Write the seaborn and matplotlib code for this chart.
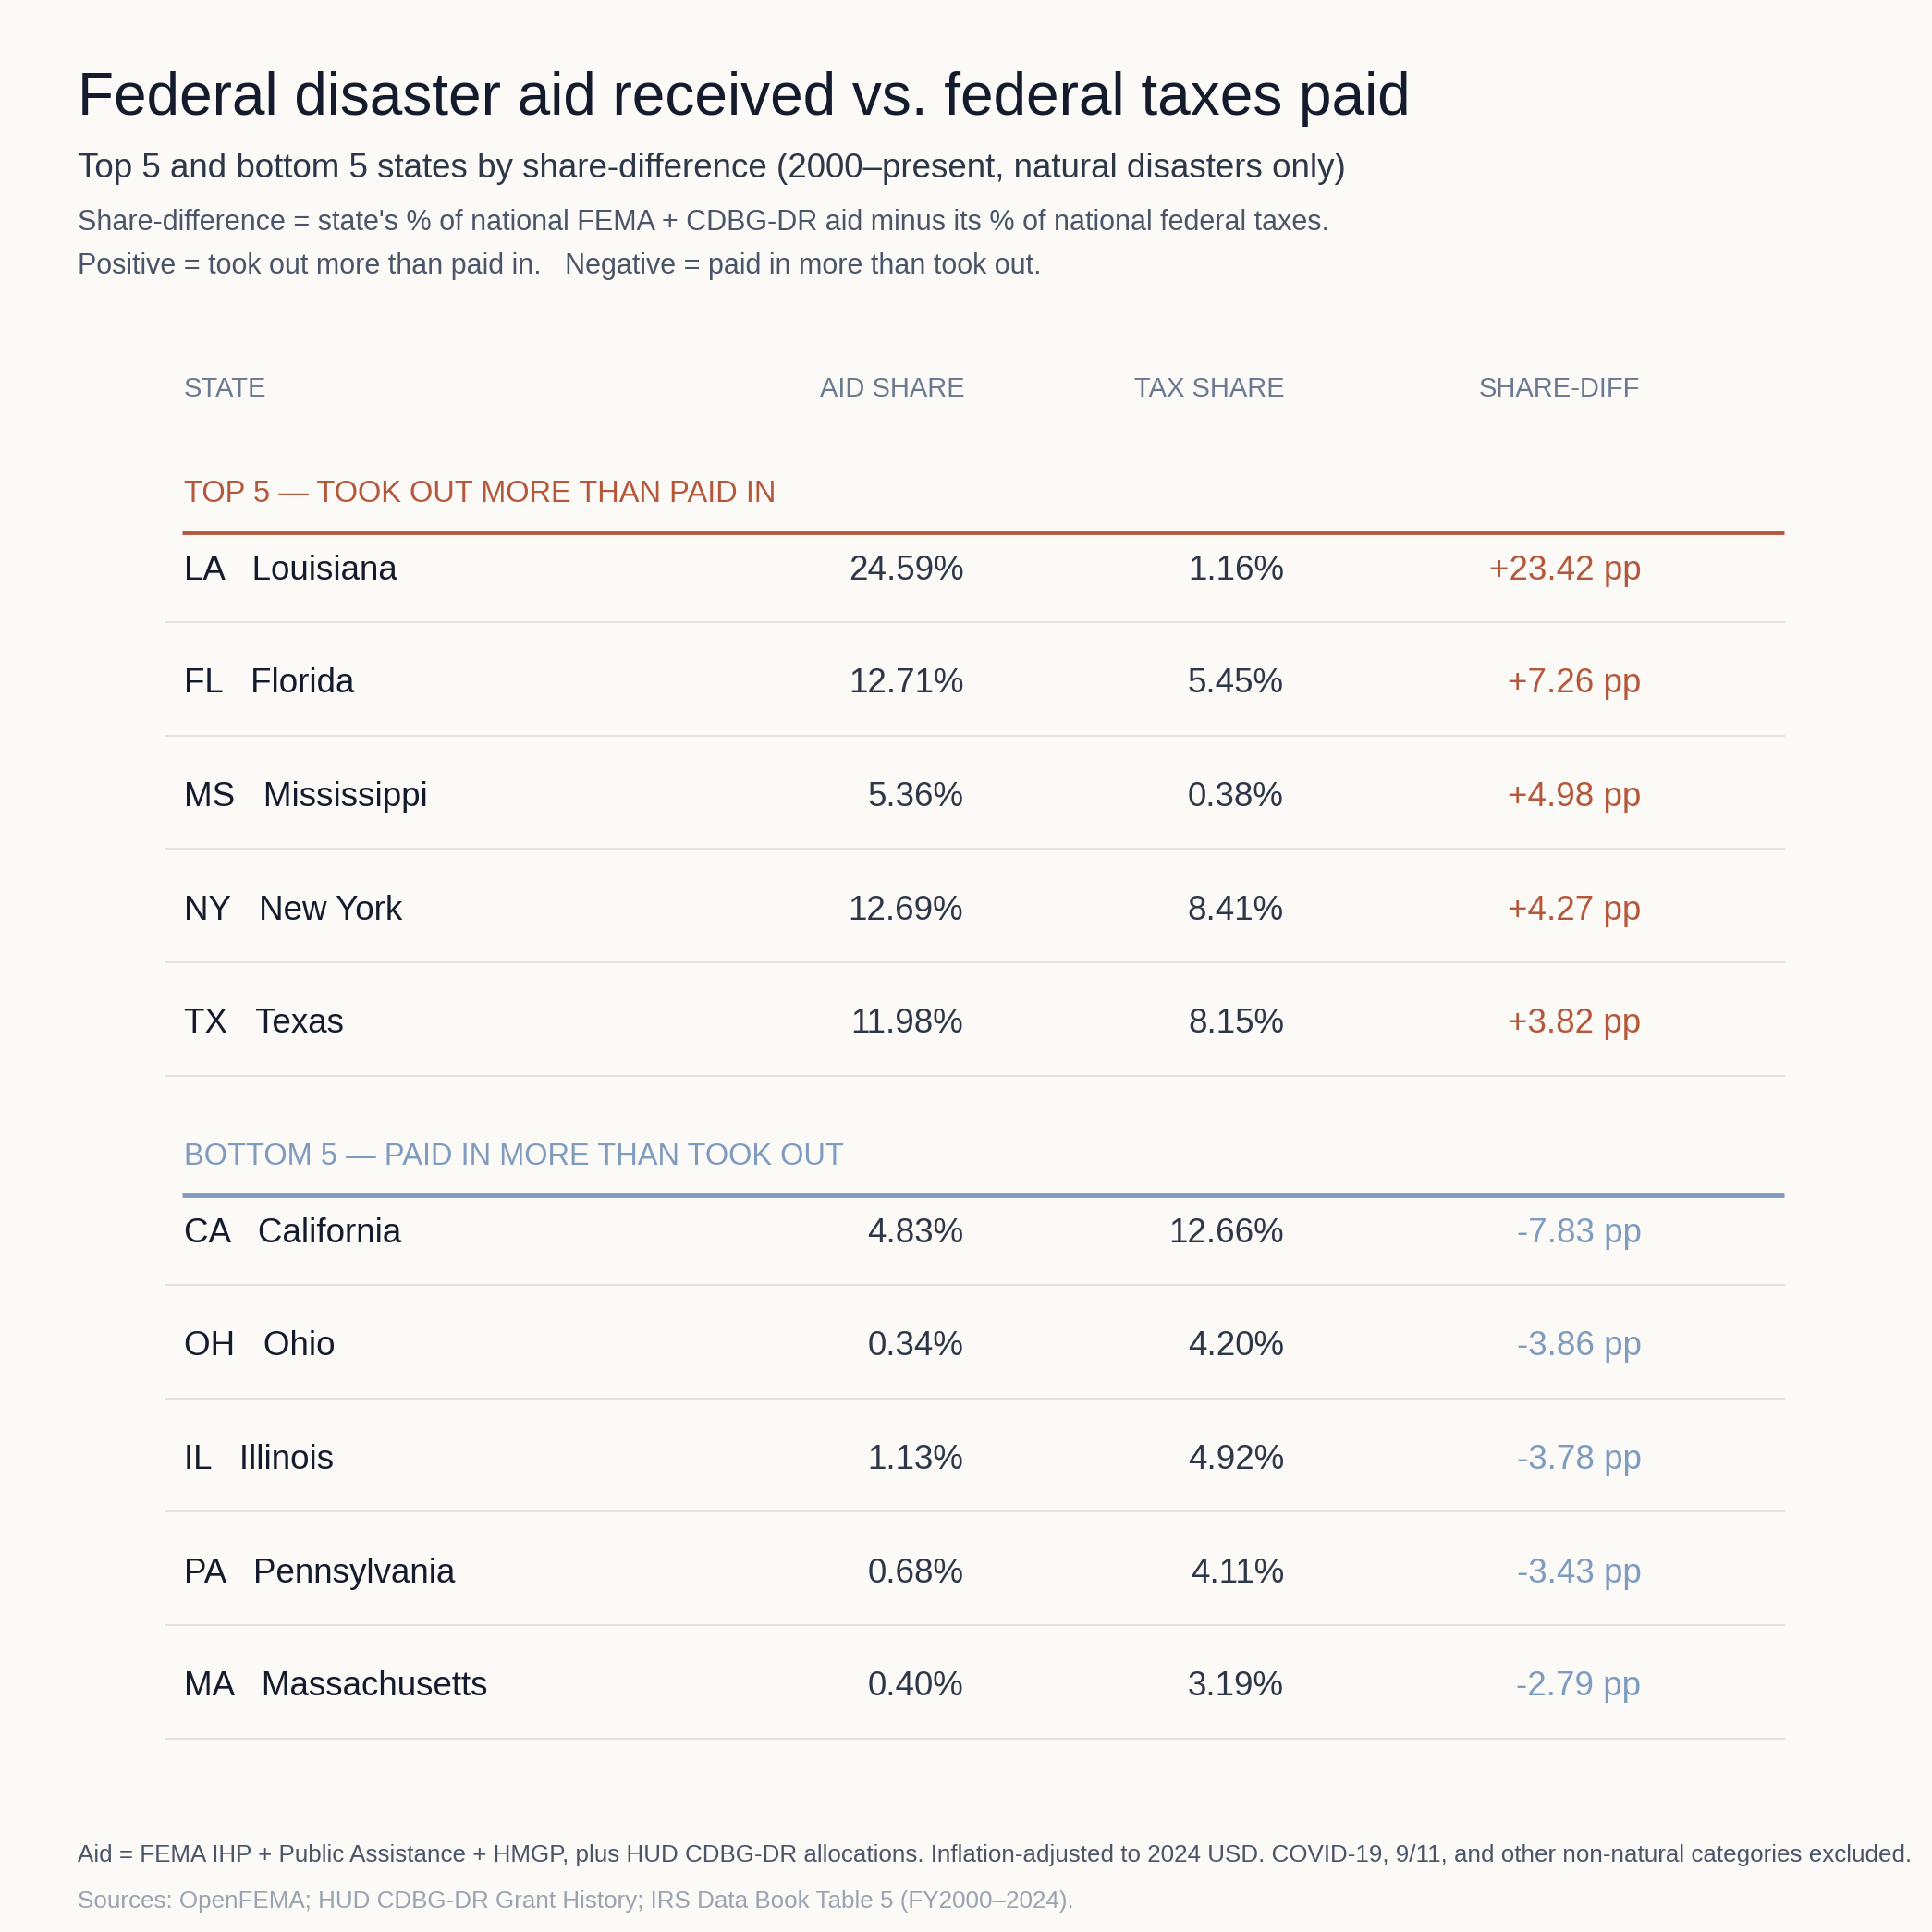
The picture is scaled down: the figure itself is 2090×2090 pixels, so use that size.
import matplotlib.pyplot as plt
import seaborn as sns

codes_top = ['LA', 'FL', 'MS', 'NY', 'TX']
names_top = ['Louisiana', 'Florida', 'Mississippi', 'New York', 'Texas']
aid_top = [24.59, 12.71, 5.36, 12.69, 11.98]
tax_top = [1.16, 5.45, 0.38, 8.41, 8.15]
diff_top = [23.42, 7.26, 4.98, 4.27, 3.82]

codes_bot = ['CA', 'OH', 'IL', 'PA', 'MA']
names_bot = ['California', 'Ohio', 'Illinois', 'Pennsylvania', 'Massachusetts']
aid_bot = [4.83, 0.34, 1.13, 0.68, 0.40]
tax_bot = [12.66, 4.20, 4.92, 4.11, 3.19]
diff_bot = [-7.83, -3.86, -3.78, -3.43, -2.79]

headers = ['STATE', 'AID SHARE', 'TAX SHARE', 'SHARE-DIFF']

BG = '#fbfaf7'
DARK = '#141b2d'
SUB = '#2d3748'
NOTE = '#4a5568'
HEAD = '#6b7a90'
ORANGE = '#b5573a'
BLUE = '#7f9bbf'
SEP = '#e2e2e2'

sns.set_theme(style='white')
plt.rcParams['font.family'] = ['Liberation Sans', 'DejaVu Sans']

fig = plt.figure(figsize=(20.9, 20.9), dpi=100, facecolor=BG)
ax = fig.add_axes([0, 0, 1, 1])
ax.set_facecolor(BG)
ax.set_xlim(0, 1568)
ax.set_ylim(1568, 0)
ax.axis('off')

ax.text(63, 80, 'Federal disaster aid received vs. federal taxes paid', fontsize=46, color=DARK, va='center')
ax.text(63, 137, 'Top 5 and bottom 5 states by share-difference (2000\u2013present, natural disasters only)',
        fontsize=26.5, color=SUB, va='center')
ax.text(63, 181, "Share-difference = state's % of national FEMA + CDBG-DR aid minus its % of national federal taxes.",
        fontsize=22, color=NOTE, va='center')
ax.text(63, 216, 'Positive = took out more than paid in.   Negative = paid in more than took out.',
        fontsize=22, color=NOTE, va='center')

col_x = [149, 783, 1043, 1331]
for i, h in enumerate(headers):
    ax.text(col_x[i], 316, h, fontsize=21, color=HEAD, va='center', ha='left' if i == 0 else 'right')


def section(title, color, head_y, codes, names, aid, tax, diff):
    ax.text(149, head_y, title, fontsize=23.5, color=color, va='center')
    ax.plot([148, 1448], [head_y + 31, head_y + 31], color=color, lw=3.5, solid_capstyle='butt')
    y0 = head_y + 62
    for k in range(len(codes)):
        y = y0 + 92 * k
        ax.text(149, y, f'{codes[k]}   {names[k]}', fontsize=26.5, color=DARK, va='center')
        ax.text(782, y, f'{aid[k]:.2f}%', fontsize=26.5, color=SUB, va='center', ha='right')
        ax.text(1042, y, f'{tax[k]:.2f}%', fontsize=26.5, color=SUB, va='center', ha='right')
        ax.text(1332, y, f'{diff[k]:+.2f} pp', fontsize=26.5, color=color, va='center', ha='right')
        ax.plot([134, 1448], [y + 42, y + 42], color=SEP, lw=1.5)


section('TOP 5 \u2014 TOOK OUT MORE THAN PAID IN', ORANGE, 401, codes_top, names_top, aid_top, tax_top, diff_top)
section('BOTTOM 5 \u2014 PAID IN MORE THAN TOOK OUT', BLUE, 939, codes_bot, names_bot, aid_bot, tax_bot, diff_bot)

ax.text(63, 1506, 'Aid = FEMA IHP + Public Assistance + HMGP, plus HUD CDBG-DR allocations. '
        'Inflation-adjusted to 2024 USD. COVID-19, 9/11, and other non-natural categories excluded.',
        fontsize=18.7, color=NOTE, va='center')
ax.text(63, 1543, 'Sources: OpenFEMA; HUD CDBG-DR Grant History; IRS Data Book Table 5 (FY2000\u20132024).',
        fontsize=18.7, color='#9aa3b0', va='center')

fig.savefig('out.png', dpi=100, facecolor=BG)
